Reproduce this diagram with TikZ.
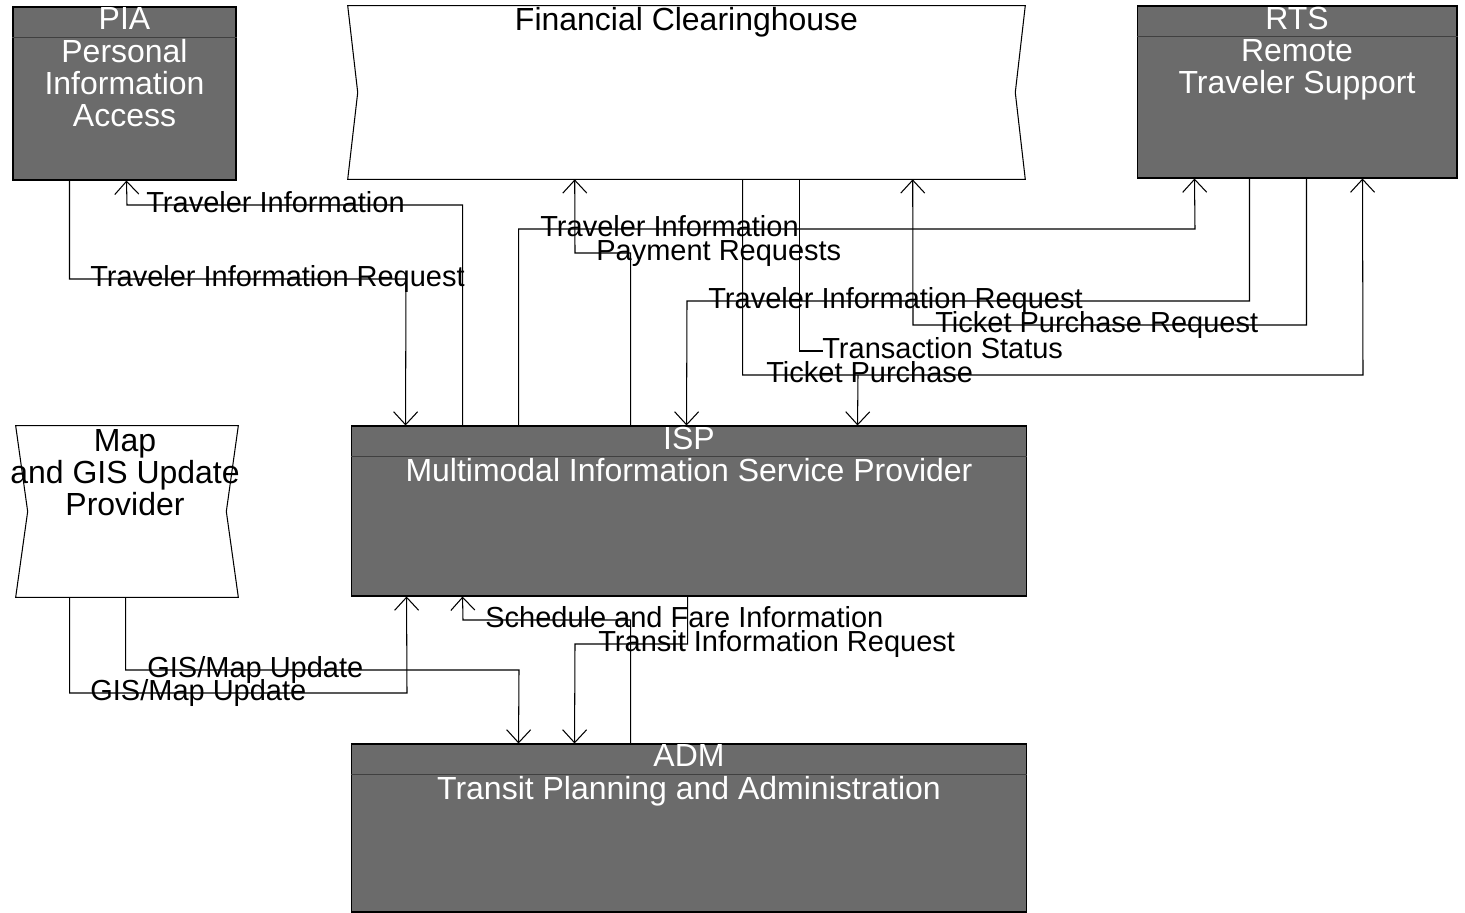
\documentclass[tikz,border=0pt]{standalone}
\usepackage{fontspec}
\setmainfont{Liberation Sans}
\usetikzlibrary{calc,arrows.meta}

\tikzset{
	sysbox/.style={draw=black, line width=0.6pt, fill=black!58, inner sep=0pt},
	extbox/.style={draw=none, inner sep=0pt},
	boxtext/.style={text=white, font=\fontsize{18.2}{18.4}\selectfont, align=center, inner sep=0pt, anchor=north},
	exttext/.style={text=black, font=\fontsize{18.2}{18.4}\selectfont, align=center, inner sep=0pt, anchor=north},
	flowlbl/.style={font=\fontsize{16.5}{18}\selectfont, inner sep=0pt, anchor=base west},
	flow/.style={line width=0.6pt, -{Straight Barb[length=0.26cm,width=0.48cm]}},
	flowline/.style={line width=0.6pt},
	hdrline/.style={draw=black!75, line width=0.8pt},
}

\begin{document}
\begin{tikzpicture}[x=0.02cm, y=-0.02cm]
	\useasboundingbox (0,0) rectangle (1465,913);

	% subsystems and terminators
	\node[sysbox, minimum width=4.46cm, minimum height=3.46cm] (pia) at (124.5,93.5) {};
	\node[sysbox, minimum width=6.4cm, minimum height=3.44cm] (rts) at (1297,92) {};
	\node[sysbox, minimum width=13.52cm, minimum height=3.4cm] (isp) at (689,511) {};
	\node[sysbox, minimum width=13.52cm, minimum height=3.36cm] (adm) at (689,828) {};
	\node[extbox, minimum width=13.54cm, minimum height=3.46cm] (fch) at (686.5,92.5) {};
	\node[extbox, minimum width=4.44cm, minimum height=3.42cm] (map) at (127,511.5) {};

	\draw[line width=0.6pt] (fch.north west) -- ($(fch.west)+(10,0)$) -- (fch.south west)
		-- (fch.south east) -- ($(fch.east)+(-10,0)$) -- (fch.north east) -- cycle;
	\draw[line width=0.6pt] (map.north west) -- ($(map.west)+(12,0)$) -- (map.south west)
		-- (map.south east) -- ($(map.east)+(-12,0)$) -- (map.north east) -- cycle;

	\foreach \b in {pia,rts,isp,adm}
		\draw[hdrline] ($(\b.north west)+(0,31)$) -- ($(\b.north east)+(0,31)$);

	\node[boxtext] (piatxt) at ($(pia.north)+(0,1)$) {PIA\\Personal\\Information\\Access};
	\node[boxtext] (rtstxt) at ($(rts.north)+(0,1)$) {RTS\\Remote\\Traveler Support};
	\node[boxtext] (isptxt) at ($(isp.north)+(0,1)$) {ISP\\Multimodal Information Service Provider};
	\node[boxtext] (admtxt) at ($(adm.north)+(0,1)$) {ADM\\Transit Planning and Administration};
	\node[exttext] (fchtxt) at ($(fch.north)+(0,1)$) {Financial Clearinghouse};
	\node[exttext] (maptxt) at ($(map.north)+(-2,3)$) {Map\\and GIS Update\\Provider};

	% flows
	\draw[flow] ($(isp.north west)+(112,0)$) |- (127,205) -- ($(pia.south west)+(114,0)$);
	\draw[flow] ($(pia.south west)+(57,0)$) |- (406,279) -- ($(isp.north west)+(55,0)$);
	\draw[flow] ($(isp.north west)+(168,0)$) |- (1195,229) -- ($(rts.south west)+(58,0)$);
	\draw[flow] ($(isp.north west)+(280,0)$) |- (575,253) -- ($(fch.south west)+(227,0)$);
	\draw[flow] ($(rts.south west)+(113,0)$) |- (687,301) -- ($(isp.north west)+(336,0)$);
	\draw[flow] ($(rts.south west)+(170,0)$) |- (913,325) -- ($(fch.south west)+(565,0)$);
	\coordinate (tsend) at (823,351);
	\draw[flowline] ($(fch.south west)+(452,0)$) |- (tsend);
	\draw[flow] ($(fch.south west)+(395,0)$) |- (1363,375) -- ($(rts.south west)+(226,0)$);
	\coordinate (tpfork) at (858,375);
	\draw[flow] (tpfork) -- ($(isp.north west)+(507,0)$);

	\draw[flow] ($(adm.north west)+(280,0)$) |- (463,620) -- ($(isp.south west)+(112,0)$);
	\draw[flow] ($(isp.south west)+(337,0)$) |- (575,644) -- ($(adm.north west)+(224,0)$);
	\draw[flow] ($(map.south west)+(110,0)$) |- (519,670) -- ($(adm.north west)+(168,0)$);
	\draw[flow] ($(map.south west)+(54,0)$) |- (407,693) -- ($(isp.south west)+(56,0)$);

	% flow labels
	\node[flowlbl] (lti1) at (146,212) {Traveler Information};
	\node[flowlbl] (ltir1) at (90,286) {Traveler Information Request};
	\node[flowlbl] (lti2) at (540,236) {Traveler Information};
	\node[flowlbl] (lpay) at (596,260) {Payment Requests};
	\node[flowlbl] (ltir2) at (708,308) {Traveler Information Request};
	\node[flowlbl] (ltpr) at (935,332) {Ticket Purchase Request};
	\node[flowlbl] (lts) at (822,358) {Transaction Status};
	\node[flowlbl] (ltp) at (766,382) {Ticket Purchase};
	\node[flowlbl] (lsfi) at (485,627) {Schedule and Fare Information};
	\node[flowlbl] (ltrir) at (598,651) {Transit Information Request};
	\node[flowlbl] (lgis1) at (147,677) {GIS/Map Update};
	\node[flowlbl] (lgis2) at (90,700) {GIS/Map Update};
\end{tikzpicture}
\end{document}
